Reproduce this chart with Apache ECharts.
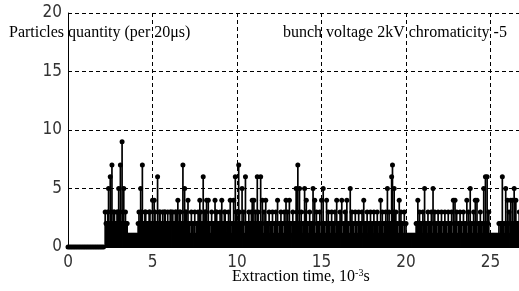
<!DOCTYPE html>
<html>
<head>
<meta charset="utf-8">
<script src="https://cdn.jsdelivr.net/npm/echarts@6/dist/echarts.min.js"></script>
<style>
  html, body { margin: 0; padding: 0; background: #fff; }
  #chart { width: 519px; height: 291px; }
</style>
</head>
<body>
<div id="chart"></div>
<script>
// counts per bin, bins every 0.1 ms starting at t = 0
const binWidth = 0.1;
const peakCounts = [
  0,0,0,0,0,0,0,0,0,0,
  0,0,0,0,0,0,0,0,0,0,
  0,0,3,2,5,6,7,3,2,3,
  5,7,9,5,3,2,1,1,1,1,
  1,1,3,5,7,2,3,2,3,2,
  4,4,2,6,3,2,3,3,2,3,
  2,3,3,2,3,4,3,2,7,5,
  3,4,2,3,1,3,2,3,4,2,
  6,3,4,4,2,3,2,4,3,2,
  3,4,2,3,2,3,4,2,4,6,
  3,7,2,5,3,6,2,3,2,4,
  4,3,6,2,6,4,3,4,2,3,
  2,3,2,3,4,2,3,2,3,4,
  3,4,2,3,2,5,7,5,3,2,
  5,4,2,3,2,5,4,3,2,3,
  4,5,2,4,3,2,3,2,3,4,
  2,3,4,2,3,4,2,5,3,2,
  3,2,3,2,3,4,2,3,2,3,
  2,3,2,3,2,4,3,2,3,5,
  3,2,7,5,3,2,4,3,2,3,
  2,1,1,1,1,1,2,4,3,2,
  3,5,2,3,2,3,5,3,2,3,
  2,3,2,3,2,3,2,3,4,4,
  3,2,3,2,3,2,4,3,5,2,
  3,4,4,2,3,2,5,6,6,3,
  1,1,1,1,1,2,2,6,2,5,
  4,3,4,4,5,4,2,3
];
// in-between bins, offset half a bin, starting at t = 2.25
const fillStart = 2.25;
const fillCounts = [
  2,3,2,3,2,3,2,3,
  3,2,3,2,2,1,1,1,1,1,
  1,2,2,3,2,3,2,2,3,2,
  2,3,2,2,3,2,2,3,2,2,
  3,2,2,3,2,2,3,2,2,3,
  2,2,1,2,2,1,2,2,3,2,
  2,3,2,2,1,2,2,3,2,2,
  2,2,3,1,2,2,1,2,2,3,
  2,3,2,2,1,2,2,2,3,2,
  2,2,3,2,2,1,2,2,2,1,
  2,1,2,2,1,2,2,1,2,2,
  2,2,1,2,2,3,2,2,1,2,
  3,2,1,2,2,2,1,2,2,1,
  2,2,1,2,2,1,2,2,1,2,
  2,2,1,2,2,2,1,2,2,1,
  2,1,2,2,1,2,2,1,2,2,
  1,2,2,1,2,2,1,2,2,2,
  2,6,3,2,2,1,2,2,1,1,
  1,1,1,1,1,1,2,2,2,1,
  2,2,1,2,2,1,2,2,1,2,
  2,1,2,2,1,2,2,1,2,2,
  1,2,2,1,2,2,1,2,2,1,
  2,2,1,2,2,1,2,2,2,1,
  1,1,1,1,1,1,2,2,1,2,
  2,1,2,2,1,2,2
];
const xTicks = [0, 5, 10, 15, 20, 25, 30];
const yTicks = [0, 5, 10, 15, 20];

let points = [];
for (let i = 0; i < peakCounts.length; i++) {
  points.push([+(i * binWidth).toFixed(2), peakCounts[i]]);
}
for (let i = 0; i < fillCounts.length; i++) {
  points.push([+(fillStart + i * binWidth).toFixed(2), fillCounts[i]]);
}

let chart = echarts.init(document.getElementById('chart'));
let dash = { color: '#000', width: 1, type: [4, 3] };
let serif = 'Liberation Serif, Times New Roman, serif';
let narrow = 'Liberation Sans Narrow, DejaVu Sans Condensed, sans-serif';
let option = {
  backgroundColor: '#fff',
  animation: false,
  grid: { left: 68, top: 13, height: 234, width: 507, outerBoundsMode: 'none', containLabel: false },
  title: [
    {
      text: 'Particles quantity (per 20\u03bcs)',
      left: 9, top: 25, padding: 0,
      textStyle: { fontFamily: serif, fontSize: 16, fontWeight: 'normal', color: '#000' }
    },
    {
      text: 'bunch voltage 2kV chromaticity -5',
      left: 283, top: 25, padding: 0,
      textStyle: { fontFamily: serif, fontSize: 16, fontWeight: 'normal', color: '#000' }
    },
    {
      text: '{a|Extraction time, 10}{s|-3}{a|s}',
      left: 232, top: 268, padding: 0,
      textStyle: {
        fontWeight: 'normal',
        rich: {
          a: { fontFamily: serif, fontSize: 16, fontWeight: 'normal', color: '#000', lineHeight: 18 },
          s: { fontFamily: serif, fontSize: 10, fontWeight: 'normal', color: '#000', lineHeight: 18, padding: [0, 0, 8, 0] }
        }
      }
    }
  ],
  xAxis: {
    type: 'value',
    min: xTicks[0], max: xTicks[xTicks.length - 1], interval: 5,
    axisLine: { show: true, onZero: false, lineStyle: { color: '#000', width: 1 } },
    axisTick: { show: false },
    axisLabel: { margin: 7, color: '#333', fontSize: 17, fontFamily: narrow },
    splitLine: { show: true, lineStyle: dash }
  },
  yAxis: {
    type: 'value',
    min: yTicks[0], max: yTicks[yTicks.length - 1], interval: 5,
    axisLine: { show: true, lineStyle: { color: '#000', width: 1 } },
    axisTick: { show: false },
    axisLabel: { margin: 6, color: '#333', fontSize: 17, fontFamily: narrow },
    splitLine: { show: true, lineStyle: dash }
  },
  series: [{
    type: 'custom',
    data: points,
    clip: false,
    renderItem: function (params, api) {
      let x = api.value(0), y = api.value(1);
      let base = api.coord([x, 0]);
      let top = api.coord([x, y]);
      return {
        type: 'group',
        children: [
          { type: 'line', shape: { x1: base[0], y1: base[1], x2: top[0], y2: top[1] }, style: { stroke: '#000', lineWidth: 1.7 } },
          { type: 'circle', shape: { cx: top[0], cy: top[1], r: 2.5 }, style: { fill: '#000' } }
        ]
      };
    }
  }]
};
chart.setOption(option);
</script>
</body>
</html>
